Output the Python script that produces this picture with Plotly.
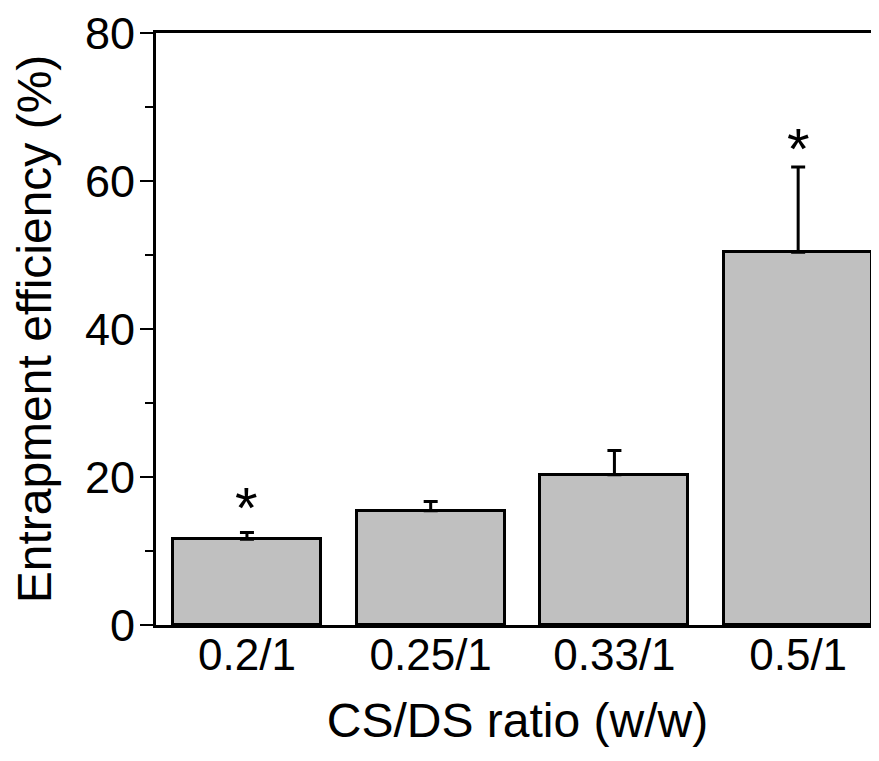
import plotly.graph_objects as go

categories = ["0.2/1", "0.25/1", "0.33/1", "0.5/1"]
efficiency = [11.6, 15.45, 20.3, 50.4]
sd = [0.9, 1.25, 3.3, 11.5]
significant = [True, False, False, True]
star_y = [16.5, None, None, 65.1]

FONT = "Liberation Sans, Arial, Helvetica, sans-serif"

fig = go.Figure()
fig.add_trace(go.Bar(
    x=categories, y=efficiency,
    width=0.806,
    marker=dict(color="#c0c0c0", line=dict(color="black", width=3)),
    error_y=dict(type="data", array=sd, symmetric=False, arrayminus=[0]*len(sd),
                 color="black", thickness=3, width=7, visible=True),
    showlegend=False,
))

for c, s, yv in zip(categories, significant, star_y):
    if s:
        fig.add_annotation(x=c, y=yv, text="*", showarrow=False,
                           font=dict(family=FONT, size=58, color="black"),
                           xref="x", yref="y", yanchor="middle", yshift=-5)

fig.update_layout(
    width=871, height=753,
    margin=dict(l=148, r=0, t=25, b=136),
    plot_bgcolor="white", paper_bgcolor="white",
    font=dict(family=FONT, color="black"),
    bargap=0,
)
fig.update_xaxes(
    type="category", range=[-0.495, 3.44], automargin=False,
    showline=True, linecolor="black", linewidth=3, mirror=True,
    ticks="", showgrid=False, zeroline=False,
    tickfont=dict(family=FONT, size=44, color="black"),
    ticklabelstandoff=-11,
    title=dict(text="CS/DS ratio (w/w)", font=dict(family=FONT, size=48, color="black"), standoff=26),
)
fig.update_yaxes(
    range=[0, 80.03], tickmode="array", tickvals=[0, 20, 40, 60, 80], automargin=False,
    ticklabeloverflow="allow", ticklabelstandoff=-4,
    showline=True, linecolor="black", linewidth=3, mirror=False,
    ticks="outside", ticklen=13, tickwidth=2, tickcolor="black",
    minor=dict(ticks="outside", ticklen=8, tickwidth=2, tickcolor="black", dtick=10, tick0=0, showgrid=False),
    showgrid=False, zeroline=False,
    tickfont=dict(family=FONT, size=45, color="black"),
    title=dict(text="Entrapment efficiency (%)", font=dict(family=FONT, size=48, color="black"), standoff=25),
)

fig.write_html("out.html")
